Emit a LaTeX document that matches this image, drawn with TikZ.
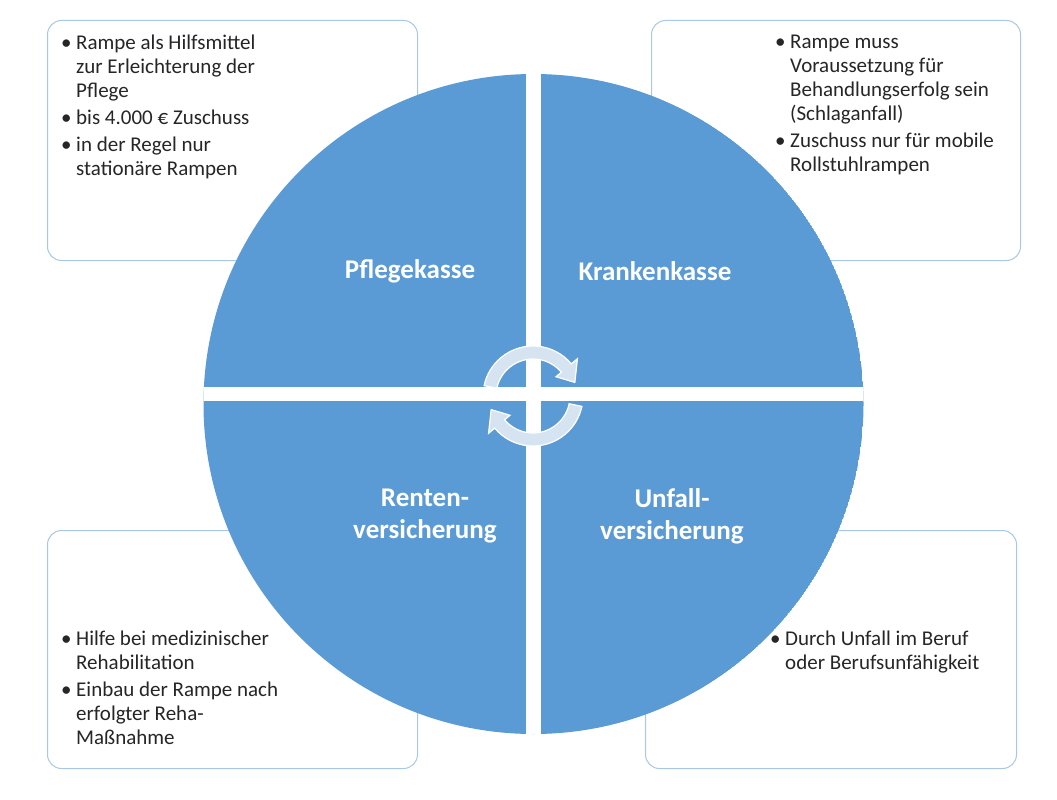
\documentclass[tikz,border=0pt]{standalone}
\usepackage{fontspec}
\setmainfont{Carlito}
\definecolor{qblue}{HTML}{5B9BD5}
\definecolor{bbord}{HTML}{A9C8E8}
\definecolor{txt}{HTML}{262626}
\definecolor{arfill}{HTML}{D6E4F2}
\newcommand{\bul}{\makebox[15pt][l]{\textbullet}}
\newcommand{\ind}{\hspace{15pt}}
\begin{document}
\begin{tikzpicture}[x=1pt,y=-1pt,
  box/.style={draw=bbord,line width=1pt,rounded corners=14pt,fill=white},
  btxt/.style={anchor=north west,text=txt,font=\fontsize{21}{24}\selectfont,inner sep=0pt,align=left},
  ttl/.style={text=white,font=\bfseries\fontsize{27}{32}\selectfont,align=center},
  arr/.style={fill=arfill,draw=white,line width=1.2pt}]
\useasboundingbox (0,0) rectangle (1057,800);
\fill[white] (0,0) rectangle (1057,800);
\node[box,minimum width=370,minimum height=240,anchor=north west] (b1) at (47,20) {};
\node[box,minimum width=369,minimum height=240,anchor=north west] (b2) at (651,20) {};
\node[box,minimum width=370,minimum height=238,anchor=north west] (b3) at (47,530) {};
\node[box,minimum width=371,minimum height=238,anchor=north west] (b4) at (645,530) {};
\node[btxt] (t1) at (61,35) {\bul Rampe als Hilfsmittel\\\ind zur Erleichterung der\\\ind Pflege\\[3pt]\bul bis 4.000 € Zuschuss\\[3pt]\bul in der Regel nur\\\ind stationäre Rampen};
\node[btxt] (t2) at (775,35) {\bul Rampe muss\\\ind Voraussetzung für\\\ind Behandlungserfolg sein\\\ind (Schlaganfall)\\[3pt]\bul Zuschuss nur für mobile\\\ind Rollstuhlrampen};
\node[btxt] (t3) at (61,631) {\bul Hilfe bei medizinischer\\\ind Rehabilitation\\[3pt]\bul Einbau der Rampe nach\\\ind erfolgter Reha-\\\ind Maßnahme};
\node[btxt] (t4) at (770,631) {\bul Durch Unfall im Beruf\\\ind oder Berufsunfähigkeit};
\begin{scope}
\clip (533.5,404) circle (330);
\fill[qblue] (533.5,404) circle (330);
\fill[white] (526,60) rectangle (541,750);
\fill[white] (190,387) rectangle (880,401);
\end{scope}
\node[ttl] (q1) at (410,271) {Pflegekasse};
\node[ttl] (q2) at (655,271) {Krankenkasse};
\node[ttl] (q3) at (425,516) {Renten-\\versicherung};
\node[ttl] (q4) at (672,516) {Unfall-\\versicherung};
\coordinate (c) at (533,396);
\draw[arr] ([shift={(-168:37)}]c) arc[start angle=-168,end angle=-40,radius=37]
  -- ([shift={(-40:30)}]c) -- ([shift={(-18:44)}]c) -- ([shift={(-40:58)}]c) -- ([shift={(-40:50)}]c)
  arc[start angle=-40,end angle=-168,radius=50] -- cycle;
\draw[arr] ([shift={(12:37)}]c) arc[start angle=12,end angle=140,radius=37]
  -- ([shift={(140:30)}]c) -- ([shift={(162:44)}]c) -- ([shift={(140:58)}]c) -- ([shift={(140:50)}]c)
  arc[start angle=140,end angle=12,radius=50] -- cycle;
\end{tikzpicture}
\end{document}
